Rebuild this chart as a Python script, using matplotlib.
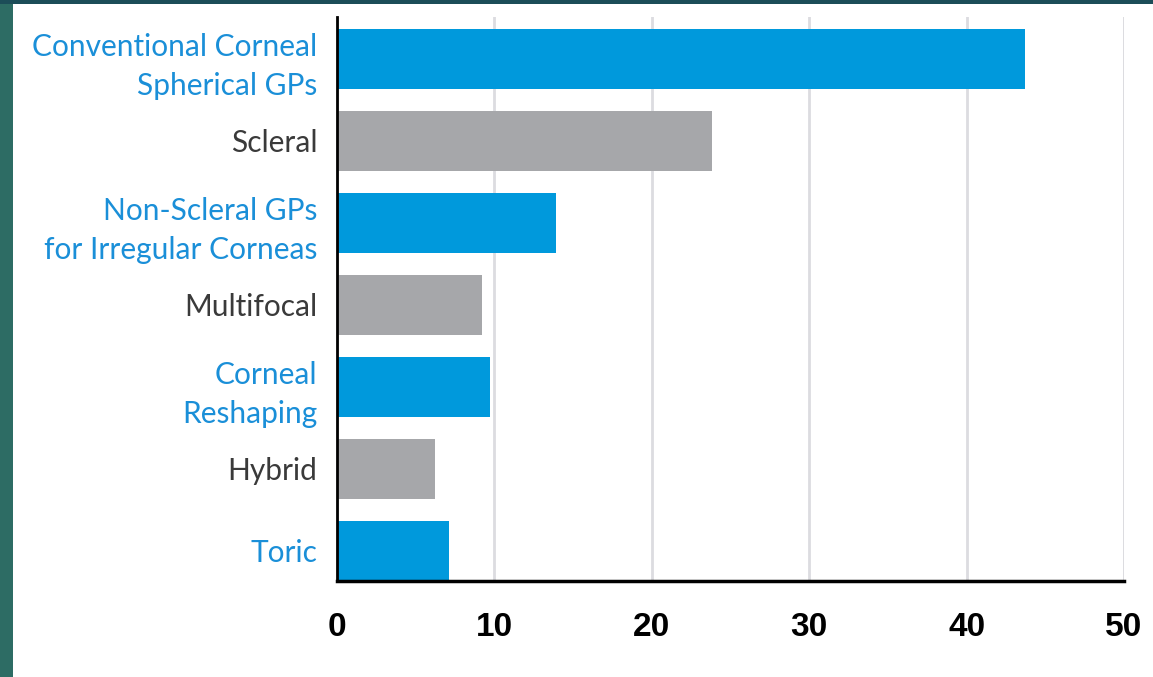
import matplotlib.pyplot as plt
from matplotlib.patches import Rectangle

# GP lens categories, top to bottom
categories = ["Conventional Corneal\nSpherical GPs", "Scleral",
              "Non-Scleral GPs\nfor Irregular Corneas", "Multifocal",
              "Corneal\nReshaping", "Hybrid", "Toric"]
values = [43.7, 23.8, 13.9, 9.2, 9.7, 6.2, 7.1]
highlight = [True, False, True, False, True, False, True]
xticks = [0, 10, 20, 30, 40, 50]

blue = "#0099dc"
grey = "#a6a7aa"
label_blue = "#1a8fd8"
label_grey = "#3a3a3a"

plt.rcParams['font.family'] = ['Lato', 'DejaVu Sans']

fig = plt.figure(figsize=(11.53, 6.77), dpi=100)
fig.patch.set_facecolor("#2d6c64")
# dark band along the top and white card behind the chart
fig.add_artist(Rectangle((0, 1 - 4/677), 1, 4/677, transform=fig.transFigure,
                         facecolor="#1c4d58", edgecolor="none", zorder=-10))
fig.add_artist(Rectangle((13/1153, 0), 1, 1 - 4/677, transform=fig.transFigure,
                         facecolor="white", edgecolor="none", zorder=-10))

ax = fig.add_axes([337/1153, 96/677, 787/1153, 564/677])
ax.set_facecolor("none")

ypos = list(range(len(categories)))
colors = [blue if h else grey for h in highlight]
ax.barh(ypos, values, height=0.73, color=colors, zorder=3)

ax.set_xlim(0, 50)
ax.set_ylim(len(categories) - 0.63, -0.51)
ax.set_xticks(xticks)
ax.set_xticklabels([str(t) for t in xticks], fontsize=24, fontweight='bold',
                   family=['Liberation Sans', 'DejaVu Sans'])
ax.tick_params(axis='x', length=0, pad=22)
ax.set_yticks(ypos)
ax.set_yticklabels(categories, fontsize=21.5, linespacing=1.45)
ax.tick_params(axis='y', length=0, pad=14)
for lbl, h in zip(ax.get_yticklabels(), highlight):
    lbl.set_color(label_blue if h else label_grey)

ax.grid(axis='x', color="#dcdce0", linewidth=2, zorder=0)
ax.axvline(50, color="#dcdce0", linewidth=2, zorder=0)

for s in ["top", "right"]:
    ax.spines[s].set_visible(False)
ax.spines["left"].set_linewidth(2)
ax.spines["bottom"].set_linewidth(2.5)
ax.spines["left"].set_zorder(4)
ax.spines["bottom"].set_zorder(4)

fig.savefig("out.png", dpi=100, facecolor=fig.get_facecolor())
